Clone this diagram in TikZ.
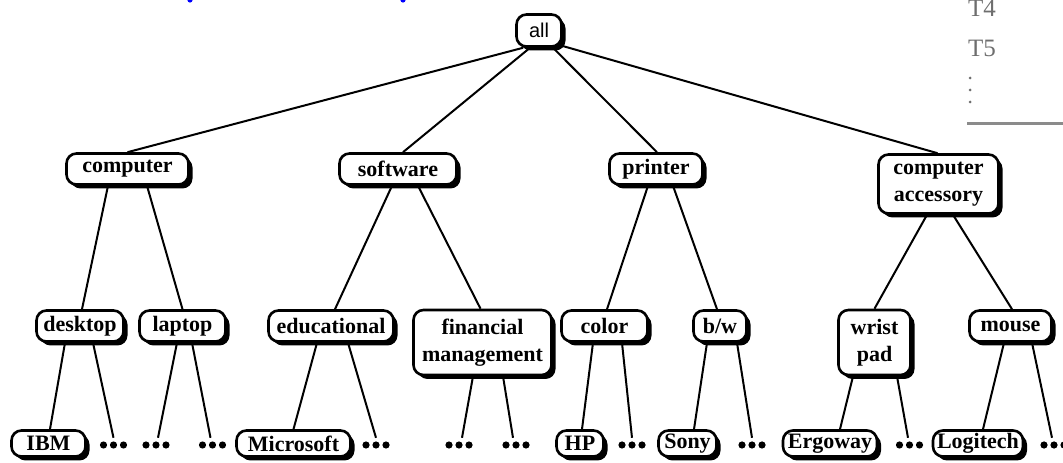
\documentclass[tikz,border=0pt]{standalone}
\usepackage{fontspec}
\setmainfont{Liberation Serif}
\newfontfamily\lsans{Liberation Sans}
\usetikzlibrary{shadows}
\definecolor{sidegray}{HTML}{6E6E6E}
\tikzset{
  box/.style={draw=black, line width=2.6pt, rounded corners=10pt, fill=white,
    font=\bfseries\fontsize{22}{27}\selectfont, inner sep=0pt, align=center,
    minimum height=31pt,
    drop shadow={shadow xshift=4pt, shadow yshift=-4pt, fill=black, opacity=1}},
  leaf/.style={box, minimum height=26pt},
  tall/.style={box, minimum height=65pt},
  edge/.style={line width=2pt},
  dotsn/.style={inner sep=0pt, minimum width=28pt, minimum height=14pt},
  dotfill/.style={fill=black},
}
\begin{document}
\begin{tikzpicture}[x=1pt,y=1pt]
\useasboundingbox (0,0) rectangle (1063,463);
% fragments at the top
\fill[blue] (190,463) circle (2.6);
\fill[blue] (403,463) circle (2.6);
% side table fragment
\node[anchor=base west, inner sep=0pt, text=sidegray, font=\fontsize{25}{30}\selectfont] (t4) at (968,446) {T4};
\node[anchor=base west, inner sep=0pt, text=sidegray, font=\fontsize{25}{30}\selectfont] (t5) at (968,406) {T5};
\fill[sidegray] (970,385) circle (1.5) (970,373) circle (1.5) (970,361) circle (1.5);
\fill[sidegray!80] (967,337.5) rectangle (1063,341);

% root
\node[box, font=\lsans\fontsize{20}{24}\selectfont, minimum width=45pt, minimum height=32pt] (all) at (539,432.5) {all};
% level 1
\node[box, minimum width=122pt] (computer) at (127.5,294) {computer};
\node[box, minimum width=117pt] (software) at (398,294) {software};
\node[box, minimum width=93pt] (printer) at (656,294) {printer};
\node[box, minimum width=120pt, minimum height=59pt] (acc) at (938.5,279) {computer\\accessory};
% level 2
\node[box, minimum width=87pt] (desktop) at (80,137) {desktop};
\node[box, minimum width=86pt] (laptop) at (182.5,137) {laptop};
\node[box, minimum width=125pt] (edu) at (331,137) {educational};
\node[tall, minimum width=138pt] (fin) at (482.5,120.5) {financial\\management};
\node[box, minimum width=86pt] (color) at (604.5,137) {color};
\node[box, minimum width=53pt] (bw) at (720,137) {b/w};
\node[tall, minimum width=72pt] (wrist) at (874.5,120.5) {wrist\\pad};
\node[box, minimum width=82pt] (mouse) at (1010.5,137) {mouse};
% level 3
\node[leaf, minimum width=74pt] (ibm) at (48.5,19.5) {IBM};
\node[leaf, minimum width=114pt] (ms) at (293.5,19.5) {Microsoft};
\node[leaf, minimum width=47pt] (hp) at (580,19.5) {HP};
\node[leaf, minimum width=58pt] (sony) at (687.5,19.5) {Sony};
\node[leaf, minimum width=94pt] (ergo) at (830,19.5) {Ergoway};
\node[leaf, minimum width=90pt] (logi) at (978,19.5) {Logitech};
% ellipsis nodes
\foreach \n/\x in {d1/113.5, d2/156, d3/212.5, d4/376, d5/459, d6/516, d7/632, d8/752, d9/909.5, d10/1054}{
  \node[dotsn] (\n) at (\x,18) {};
  \fill[dotfill] (\n.center) circle (3.6) ([xshift=-10pt]\n.center) circle (3.6) ([xshift=10pt]\n.center) circle (3.6);
}

% edges root
\draw[edge] ([xshift=-16pt]all.south) -- (computer.north);
\draw[edge] ([xshift=-9pt]all.south) -- ([xshift=5pt]software.north);
\draw[edge] ([xshift=14pt]all.south) -- ([xshift=1pt]printer.north);
\draw[edge] ([xshift=23pt,yshift=2pt]all.south) -- ([xshift=-1pt]acc.north);
% level 1 -> 2
\draw[edge] ([xshift=-19.5pt]computer.south) -- ([xshift=2pt]desktop.north);
\draw[edge] ([xshift=19.5pt]computer.south) -- (laptop.north);
\draw[edge] ([xshift=-6pt]software.south) -- ([xshift=4pt]edu.north);
\draw[edge] ([xshift=20pt]software.south) -- ([xshift=-2pt]fin.north);
\draw[edge] ([xshift=-8pt]printer.south) -- ([xshift=2.5pt]color.north);
\draw[edge] ([xshift=17pt]printer.south) -- ([xshift=-3pt]bw.north);
\draw[edge] ([xshift=-11.5pt]acc.south) -- (wrist.north);
\draw[edge] ([xshift=14.5pt]acc.south) -- ([xshift=1.5pt]mouse.north);
% level 2 -> 3
\draw[edge] ([xshift=-15pt]desktop.south) -- ([xshift=1.5pt]ibm.north);
\draw[edge] ([xshift=13pt]desktop.south) -- (d1.north);
\draw[edge] ([xshift=-5.5pt]laptop.south) -- ([xshift=2pt]d2.north);
\draw[edge] ([xshift=9.5pt]laptop.south) -- ([xshift=-2pt]d3.north);
\draw[edge] ([xshift=-14pt]edu.south) -- (ms.north);
\draw[edge] ([xshift=17pt]edu.south) -- (d4.north);
\draw[edge] ([xshift=-9.5pt]fin.south) -- ([xshift=3pt]d5.north);
\draw[edge] ([xshift=20.5pt]fin.south) -- ([xshift=-3pt]d6.north);
\draw[edge] ([xshift=-11.5pt]color.south) -- ([xshift=2pt]hp.north);
\draw[edge] ([xshift=17.5pt]color.south) -- (d7.north);
\draw[edge] ([xshift=-13pt]bw.south) -- ([xshift=6.5pt]sony.north);
\draw[edge] ([xshift=17pt]bw.south) -- (d8.north);
\draw[edge] ([xshift=-21.5pt]wrist.south) -- ([xshift=10pt]ergo.north);
\draw[edge] ([xshift=22.5pt]wrist.south) -- ([xshift=-1.5pt]d9.north);
\draw[edge] ([xshift=-6.5pt]mouse.south) -- ([xshift=5pt]logi.north);
\draw[edge] ([xshift=21.5pt]mouse.south) -- ([xshift=-2pt]d10.north);
\end{tikzpicture}
\end{document}
